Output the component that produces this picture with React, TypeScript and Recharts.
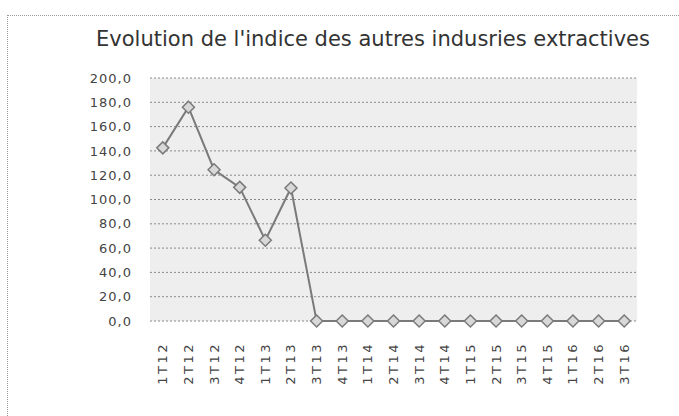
import { CartesianGrid, Line, LineChart, XAxis, YAxis } from 'recharts'

const quarters = [
  '1T12', '2T12', '3T12', '4T12',
  '1T13', '2T13', '3T13', '4T13',
  '1T14', '2T14', '3T14', '4T14',
  '1T15', '2T15', '3T15', '4T15',
  '1T16', '2T16', '3T16',
]
const indexValues = [142.5, 176.0, 124.5, 110.0, 66.5, 109.5, 0, 0, 0, 0, 0, 0, 0, 0, 0, 0, 0, 0, 0]
const yTicks = [0, 20, 40, 60, 80, 100, 120, 140, 160, 180, 200]

const data = quarters.map((q, i) => ({ q, v: indexValues[i] }))

const font = '"DejaVu Sans", Verdana, sans-serif'

function QuarterTick({ x, y, payload }: any) {
  return (
    <g transform={`translate(${x},${y})`}>
      <text transform="rotate(-90)" textAnchor="end" dy={4.5} fill="#444" fontSize={13} fontFamily={font} letterSpacing={2.5}>
        {payload.value}
      </text>
    </g>
  )
}

function Diamond({ cx, cy, index }: any) {
  if (cx == null || cy == null) return null
  const r = 6
  return (
    <path
      key={index}
      d={`M${cx},${cy - r}L${cx + r},${cy}L${cx},${cy + r}L${cx - r},${cy}Z`}
      fill="#d8d8d8"
      stroke="#7a7a7a"
      strokeWidth={1.5}
    />
  )
}

export default function App() {
  return (
    <div style={{ position: 'absolute', left: 0, top: 0, width: 679, height: 416, background: '#fff', overflow: 'hidden' }}>
      <div style={{ position: 'absolute', left: 7, top: 15, right: -2, bottom: -2, borderLeft: '1px dotted #999', borderTop: '1px dotted #999' }} />
      <div style={{ position: 'absolute', left: 0, width: 746, top: 27, textAlign: 'center', fontFamily: font, fontSize: 21, color: '#333' }}>
        Evolution de l'indice des autres indusries extractives
      </div>
      <LineChart width={679} height={416} data={data} margin={{ top: 78, right: 42, bottom: 35, left: 0 }} style={{ position: 'absolute', left: 0, top: 0 }}>
        <CartesianGrid vertical={false} fill="#eeeeee" stroke="#8a8a8a" strokeDasharray="2 2" />
        <XAxis
          dataKey="q"
          interval={0}
          height={60}
          axisLine={false}
          tickLine={false}
          tickSize={6}
          tickMargin={15}
          padding={{ left: 12.8, right: 12.8 }}
          tick={<QuarterTick />}
        />
        <YAxis
          width={150}
          domain={[0, 200]}
          ticks={yTicks}
          interval={0}
          axisLine={false}
          tickLine={false}
          tickSize={6}
          tickMargin={12}
          tick={{ fill: '#444', fontSize: 13, fontFamily: font, letterSpacing: 1 }}
          tickFormatter={(v: number) => v.toFixed(1).replace('.', ',')}
        />
        <Line type="linear" dataKey="v" stroke="#7a7a7a" strokeWidth={2} dot={<Diamond />} activeDot={false} isAnimationActive={false} />
      </LineChart>
    </div>
  )
}
